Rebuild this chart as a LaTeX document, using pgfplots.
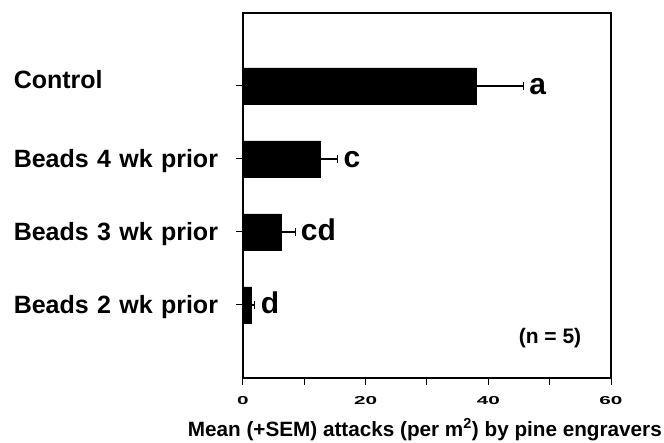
\documentclass[border=0pt]{standalone}
\usepackage{fontspec}
\setmainfont{Liberation Sans}
\usepackage{graphicx}
\usepackage{pgfplots}
\pgfplotsset{compat=1.18}
\newcommand{\widedig}[1]{\scalebox{1.8}[1]{#1}}
\begin{document}
\begin{tikzpicture}
\path[use as bounding box] (0,0) rectangle (664pt,443pt);
\begin{axis}[
  at={(243pt,65pt)}, anchor=south west,
  width=368pt, height=365pt, scale only axis,
  xmin=0, xmax=60, ymin=-1, ymax=4,
  xbar, bar width=36pt,
  xtick={0,20,40,60}, minor xtick={10,30,50},
  xticklabels={\widedig{0},\widedig{20},\widedig{40},\widedig{60}},
  ytick={0,1,2,3},
  yticklabels={Beads 2 wk prior, Beads 3 wk prior, Beads 4 wk prior, \raisebox{6pt}{Control}},
  tick align=outside, xtick pos=bottom, ytick pos=left,
  major tick length=7pt, minor tick length=7pt,
  every tick/.style={black, line width=1pt},
  every minor tick/.style={black, line width=1pt},
  axis line style={line width=1.5pt},
  xticklabel style={font=\bfseries\fontsize{11.5}{11.5}\selectfont, anchor=north, inner sep=0pt, yshift=-11pt},
  yticklabel style={font=\bfseries\fontsize{25}{25}\selectfont, anchor=base east, text width=222pt, align=left, inner sep=0pt, yshift=-9pt},
  xlabel={Mean (+SEM) attacks (per m\textsuperscript{2}) by pine engravers},
  xlabel style={at={(axis description cs:1.1386,-0.159)}, anchor=base east, font=\bfseries\fontsize{20.7}{20.7}\selectfont, inner sep=0pt},
]
\addplot[fill=black, draw=black,
  error bars/.cd, x dir=plus, x explicit,
  error mark=|,
  error bar style={line width=1.2pt},
  error mark options={black, mark size=4pt, line width=1.2pt}]
  coordinates {
  (1.4,0) +- (0.5,0)
  (6.3,1) +- (2.3,0)
  (12.6,2) +- (2.8,0)
  (38.1,3) +- (7.6,0)
};
\node[anchor=base west, inner sep=0pt, xshift=6pt, yshift=-8.5pt, font=\bfseries\fontsize{30}{30}\selectfont] at (axis cs:45.7,3) {a};
\node[anchor=base west, inner sep=0pt, xshift=6pt, yshift=-8.5pt, font=\bfseries\fontsize{30}{30}\selectfont] at (axis cs:15.4,2) {c};
\node[anchor=base west, inner sep=0pt, xshift=5pt, yshift=-8.5pt, font=\bfseries\fontsize{30}{30}\selectfont] at (axis cs:8.6,1) {cd};
\node[anchor=base west, inner sep=0pt, xshift=6pt, yshift=-8.5pt, font=\bfseries\fontsize{30}{30}\selectfont] at (axis cs:1.9,0) {d};
\node[inner sep=0pt, font=\bfseries\fontsize{21}{21}\selectfont] at (axis cs:50.05,-0.45) {(n = 5)};
\end{axis}
\end{tikzpicture}
\end{document}
